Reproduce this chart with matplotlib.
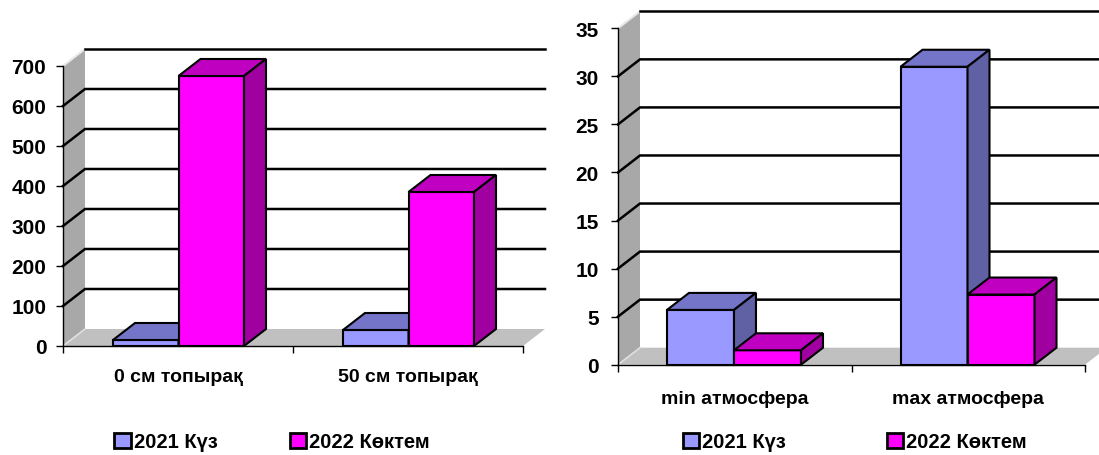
import matplotlib
matplotlib.use("Agg")
import matplotlib.pyplot as plt
from matplotlib.patches import Polygon, Patch

plt.rcParams['font.family'] = ['Liberation Sans', 'DejaVu Sans']
plt.rcParams['font.weight'] = 'bold'

# ---- data ----
soil_categories = ["0 см топырақ", "50 см топырақ"]
soil_2021 = [15, 40]
soil_2022 = [675, 385]
soil_ticks = [0, 100, 200, 300, 400, 500, 600, 700]

atm_categories = ["min атмосфера", "max атмосфера"]
atm_2021 = [5.7, 31]
atm_2022 = [1.5, 7.3]
atm_ticks = [0, 5, 10, 15, 20, 25, 30, 35]

series_names = ["2021 Күз", "2022 Көктем"]

# ---- style ----
W, H = 1099, 456
DEPTH_X, DEPTH_Y = 22, 17          # depth offset of the 3-D box, in pixels
FRONT = ["#9999ff", "#ff00ff"]
TOP = ["#7474c8", "#c000c0"]
SIDE = ["#6060a4", "#a000a0"]
WALL = "#a8a8a8"
FLOOR = "#c0c0c0"
TICK_FS = 15
CAT_FS = 14
LEG_FS = 14.5

fig = plt.figure(figsize=(W / 100, H / 100), dpi=100)


def add_axes_px(x0, x1, y_top, y_bot):
    return fig.add_axes([x0 / W, (H - y_bot) / H, (x1 - x0) / W, (y_bot - y_top) / H])


def draw_chart(ax, cats, s1, s2, ticks, bar_off, bar_w, cat_pad, ypad):
    n = len(cats)
    ymax = ticks[-1]
    ax.set_xlim(0, n)
    ax.set_ylim(0, ymax)
    pos = ax.get_position()
    dx = DEPTH_X * n / (pos.width * W)
    dy = DEPTH_Y * ymax / (pos.height * H)

    # side wall and floor
    ax.add_patch(Polygon([(0, 0), (0, ymax), (dx, ymax + dy), (dx, dy)],
                         closed=True, facecolor=WALL, edgecolor="none",
                         clip_on=False, zorder=0.5))
    ax.add_patch(Polygon([(0, 0), (n, 0), (n + dx, dy), (dx, dy)],
                         closed=True, facecolor=FLOOR, edgecolor="none",
                         clip_on=False, zorder=0.6))
    ax.plot([0, dx], [ymax, ymax + dy], color="#e8e8e8", lw=1.5,
            clip_on=False, zorder=0.7)
    ax.plot([0, dx], [0, dy], color="#e0e0e0", lw=1.2,
            clip_on=False, zorder=0.7)

    # gridlines on side and back walls
    for v in ticks[1:]:
        if v == ymax:
            ax.plot([dx, n + dx], [v + dy, v + dy], color="black", lw=1.8,
                    clip_on=False, zorder=1)
        else:
            ax.plot([0, dx, n + dx], [v, v + dy, v + dy], color="black",
                    lw=1.8, clip_on=False, zorder=1, solid_joinstyle="miter")

    # bars with top and side faces
    for i in range(n):
        for k, vals in enumerate((s1, s2)):
            h = vals[i]
            x0 = i + bar_off + k * bar_w
            z = 3 + k
            ax.bar(x0, h, width=bar_w, align="edge", color=FRONT[k],
                   edgecolor="black", linewidth=1.5, zorder=z, clip_on=False)
            ax.add_patch(Polygon([(x0, h), (x0 + bar_w, h),
                                  (x0 + bar_w + dx, h + dy), (x0 + dx, h + dy)],
                                 closed=True, facecolor=TOP[k], edgecolor="black",
                                 linewidth=1.5, zorder=z, clip_on=False,
                                 joinstyle="miter"))
            ax.add_patch(Polygon([(x0 + bar_w, 0), (x0 + bar_w + dx, dy),
                                  (x0 + bar_w + dx, h + dy), (x0 + bar_w, h)],
                                 closed=True, facecolor=SIDE[k], edgecolor="black",
                                 linewidth=1.5, zorder=z, clip_on=False,
                                 joinstyle="miter"))

    # axes
    for s in ("top", "right"):
        ax.spines[s].set_visible(False)
    for s in ("left", "bottom"):
        ax.spines[s].set_linewidth(1.0)
        ax.spines[s].set_zorder(6)
    ax.patch.set_visible(False)
    ax.set_yticks(ticks)
    ax.set_yticklabels([str(t) for t in ticks], fontsize=TICK_FS, fontweight="bold")
    ax.set_xticks(list(range(n + 1)))
    ax.set_xticklabels([""] * (n + 1))
    ax.set_xticks([i + 0.5 for i in range(n)], minor=True)
    ax.set_xticklabels(cats, minor=True, fontsize=CAT_FS, fontweight="bold")
    ax.tick_params(axis="y", direction="out", length=5, width=1, pad=ypad)
    ax.tick_params(axis="x", which="major", direction="out", length=5, width=1)
    ax.tick_params(axis="x", which="minor", length=0, pad=cat_pad)


ax1 = add_axes_px(63, 523, 67, 347)
draw_chart(ax1, soil_categories, soil_2021, soil_2022, soil_ticks,
           50 / 230, 65.5 / 230, 16, 7)

ax2 = add_axes_px(618, 1085, 29.3, 365.7)
draw_chart(ax2, atm_categories, atm_2021, atm_2022, atm_ticks,
           49 / 233.5, 67 / 233.5, 18, 9)

handles = [Patch(facecolor=FRONT[k], edgecolor="black", linewidth=2,
                 label=series_names[k]) for k in range(2)]
for cx, spacing in ((272 / W, 3.6), (855 / W, 5.0)):
    fig.legend(handles=handles, loc="center", bbox_to_anchor=(cx, 1 - 443 / H),
               ncol=2, frameon=False, handlelength=0.8,
               handleheight=0.8, handletextpad=0.15, columnspacing=spacing,
               prop={"weight": "bold", "size": LEG_FS})

fig.savefig("out.png", dpi=100)
